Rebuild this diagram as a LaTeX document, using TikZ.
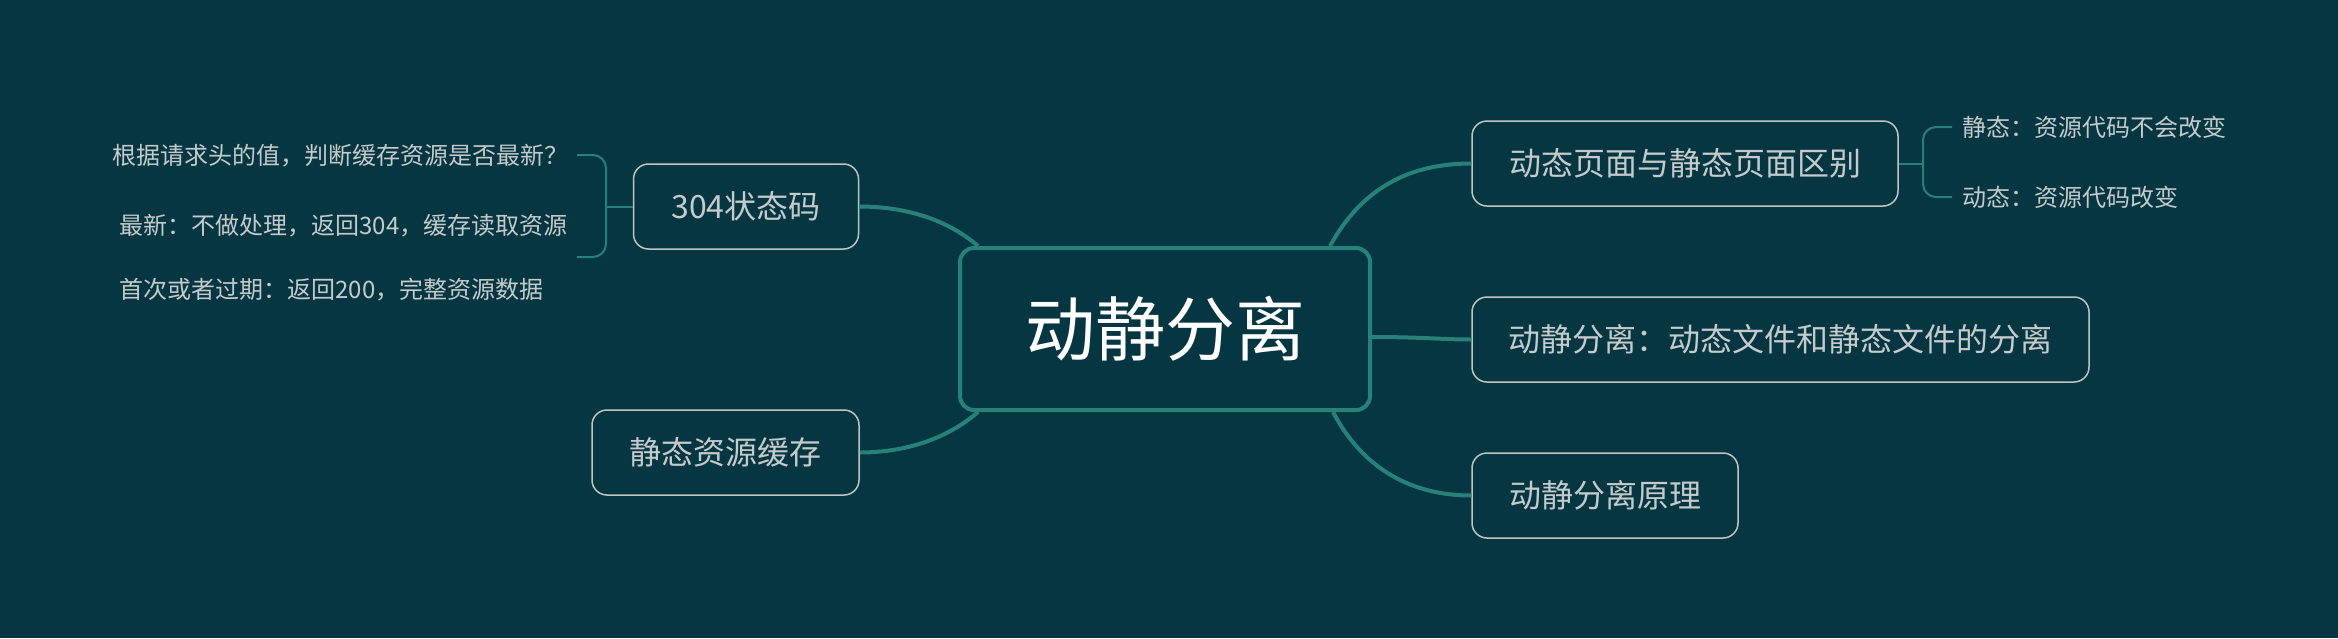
\documentclass[tikz,border=0pt]{standalone}
\usepackage{fontspec}
\newfontfamily\cjk{Noto Sans CJK SC}
\usetikzlibrary{calc}
\definecolor{bg}{RGB}{6,54,66}
\definecolor{conn}{RGB}{40,128,122}
\definecolor{boxline}{RGB}{190,198,196}
\definecolor{boxtext}{RGB}{196,203,202}
\definecolor{leaftext}{RGB}{196,203,202}
\begin{document}
\begin{tikzpicture}[x=0.5pt,y=-0.5pt,
  centralbox/.style={draw=conn, line width=2pt, fill=bg, rounded corners=7pt, text=white,
    font=\cjk\fontsize{35}{40}\selectfont, minimum width=205pt, minimum height=81pt, inner sep=0pt,
    text height=30.8pt, text depth=4.2pt},
  topicbox/.style={draw=boxline, line width=0.75pt, fill=bg, rounded corners=7.5pt, text=boxtext,
    font=\cjk\fontsize{16}{19}\selectfont, minimum height=42.5pt, inner sep=0pt,
    text height=14.08pt, text depth=1.92pt},
  leaf/.style={text=leaftext, font=\cjk\fontsize{12}{14}\selectfont, inner sep=0pt, anchor=west,
    text height=10.56pt, text depth=1.44pt},
  branch/.style={draw=conn, line width=2pt},
  bracket/.style={draw=conn, line width=1pt, rounded corners=6.5pt}]
\fill[bg] (0,0) rectangle (2338,638);
\useasboundingbox (0,0) rectangle (2338,638);

% main nodes
\node[centralbox] (c) at (1165,329) {动静分离};
\node[topicbox, minimum width=213pt] (a) at (1685,163.5) {动态页面与静态页面区别};
\node[topicbox, minimum width=308.5pt] (b) at (1780.5,339.5) {动静分离：动态文件和静态文件的分离};
\node[topicbox, minimum width=133pt] (cc) at (1605,495.5) {动静分离原理};
\node[topicbox, minimum width=112.5pt] (d) at (746,206.5) {304状态码};
\node[topicbox, minimum width=133.5pt] (e) at (725.5,452.5) {静态资源缓存};

% leaves
\node[leaf] (l1) at (1962,127) {静态：资源代码不会改变};
\node[leaf] (l2) at (1962,197) {动态：资源代码改变};
\node[leaf] (t1) at (112,155) {根据请求头的值，判断缓存资源是否最新？};
\node[leaf] (t2) at (119,225) {最新：不做处理，返回304，缓存读取资源};
\node[leaf] (t3) at (119,289) {首次或者过期：返回200，完整资源数据};

% branches
\draw[branch] ($(c.north east)+(-42,0)$) .. controls +(32,-58) and +(-62,0) .. (a.west);
\draw[branch] ($(c.east)+(0,8)$) .. controls +(50,0) and +(-30,0) .. (b.west);
\draw[branch] ($(c.south east)+(-39,0)$) .. controls +(29,55) and +(-62,0) .. (cc.west);
\draw[branch] ($(c.north west)+(20,0)$) .. controls +(-30,-26) and +(47,0) .. (d.east);
\draw[branch] ($(c.south west)+(20,0)$) .. controls +(-30,26) and +(47,0) .. (e.east);

% brackets
\coordinate (rb) at (1923,163.5);
\draw[bracket] (a.east) -- (rb);
\draw[bracket] ($(l1.west)+(-10,0)$) -| (rb) |- ($(l2.west)+(-10,0)$);
\coordinate (lb) at (606,206.5);
\coordinate (lbt) at (577,155);
\coordinate (lbb) at (577,257);
\draw[bracket] (d.west) -- (lb);
\draw[bracket] (lbt) -| (lb) |- (lbb);
\end{tikzpicture}
\end{document}
